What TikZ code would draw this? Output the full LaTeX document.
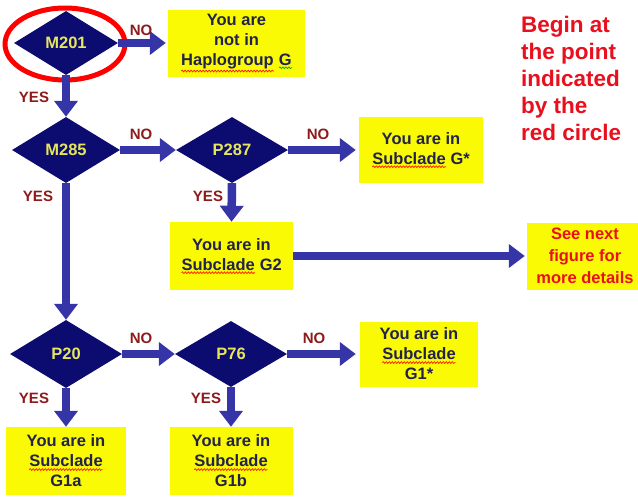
\documentclass[tikz,border=0pt]{standalone}
\usepackage{fontspec}
\setmainfont{Liberation Sans}
\usetikzlibrary{shapes.geometric,arrows.meta,decorations.pathmorphing}
\definecolor{navy}{HTML}{0B0B70}
\definecolor{arrowblue}{HTML}{3535A8}
\definecolor{boxyellow}{HTML}{FAFA05}
\definecolor{boxtext}{HTML}{22224E}
\definecolor{labred}{HTML}{8E1B1B}
\definecolor{beginred}{HTML}{E8101E}
\definecolor{diatext}{HTML}{E6E65A}
\newcommand\wavy[2]{\tikz[baseline=(w.base)]{\node[inner sep=0pt,outer sep=0pt,minimum width=0pt,minimum height=0pt,fill=none,text=boxtext](w){#2};\draw[#1,line width=0.6pt,decorate,decoration={snake,amplitude=0.9pt,segment length=3pt}] ([yshift=-2.5pt]w.south west)--([yshift=-2.5pt]w.south east);}}
\tikzset{
  dia/.style={diamond,fill=navy,inner sep=0pt,text=diatext,font=\fontsize{16.5}{18}\selectfont\bfseries},
  ybox/.style={rectangle,fill=boxyellow,inner sep=0pt,align=center,text=boxtext,font=\fontsize{16.5}{20}\selectfont\bfseries},
  lab/.style={text=labred,font=\fontsize{15}{17}\selectfont\bfseries,inner sep=0pt},
  flow/.style={draw=arrowblue,line width=8.5pt,-{Triangle[width=23pt,length=16pt]}},
}
\begin{document}
\begin{tikzpicture}[x=1pt,y=-1pt]
\useasboundingbox (0,0) rectangle (638,496);
\fill[white] (0,0) rectangle (638,496);
% diamonds
\node[dia,minimum width=104pt,minimum height=64pt] (m201) at (66,43) {M201};
\node[dia,minimum width=108pt,minimum height=66pt] (m285) at (66,150) {M285};
\node[dia,minimum width=112pt,minimum height=66pt] (p287) at (232,150) {P287};
\node[dia,minimum width=112pt,minimum height=68pt] (p20) at (66,354) {P20};
\node[dia,minimum width=112pt,minimum height=66pt] (p76) at (231,354) {P76};
% red circle
\node[draw=red,line width=5pt,ellipse,minimum width=120pt,minimum height=72pt,inner sep=0pt] (circ) at (65,44) {};
% boxes
\node[ybox,minimum width=137pt,minimum height=67pt] (notg) at (236.5,43) {You are\\not in\\\wavy{red}{Haplogroup} \wavy{green!60!black}{G}};
\node[ybox,minimum width=124pt,minimum height=66pt] (gstar) at (421,150) {You are in\\\wavy{red}{Subclade} G*};
\node[ybox,minimum width=123pt,minimum height=68pt] (g2) at (231.5,256) {You are in\\\wavy{red}{Subclade} G2};
\node[ybox,minimum width=116pt,minimum height=67pt,text=beginred,font=\fontsize{16.5}{22}\selectfont\bfseries] (next) at (585,256) {See next\\figure for\\more details};
\node[ybox,minimum width=118pt,minimum height=65pt] (g1star) at (419,354) {You are in\\\wavy{red}{Subclade}\\G1*};
\node[ybox,minimum width=120pt,minimum height=68pt] (g1a) at (66,461) {You are in\\\wavy{red}{Subclade}\\G1a};
\node[ybox,minimum width=123pt,minimum height=68pt] (g1b) at (231,461) {You are in\\\wavy{red}{Subclade}\\G1b};
% begin text
\node[anchor=north west,align=left,inner sep=0pt,text=beginred,font=\fontsize{22.5}{27}\selectfont\bfseries] (begin) at (521,16) {Begin at\\the point\\indicated\\by the\\red circle};
% connectors
\draw[flow,shorten >=2pt] (m201.east) -- (notg.west);
\draw[flow] (m201.south) -- (m285.north);
\draw[flow] (m285.east) -- (p287.west);
\draw[flow,shorten >=3pt] (p287.east) -- (gstar.west);
\draw[flow] (p287.south) -- (g2.north);
\draw[flow,shorten >=2pt] (g2.east) -- (next.west);
\draw[flow] (m285.south) -- (p20.north);
\draw[flow] (p20.east) -- (p76.west);
\draw[flow,shorten >=4pt] (p76.east) -- (g1star.west);
\draw[flow] (p20.south) -- (g1a.north);
\draw[flow] (p76.south) -- (g1b.north);
% labels
\node[lab] (no1) at (141,30) {NO};
\node[lab] (yes1) at (34,97) {YES};
\node[lab] (no2) at (141,134) {NO};
\node[lab] (no3) at (318,134) {NO};
\node[lab] (yes2) at (38,196) {YES};
\node[lab] (yes3) at (208,196) {YES};
\node[lab] (no4) at (141,338) {NO};
\node[lab] (no5) at (314,338) {NO};
\node[lab] (yes4) at (34,398) {YES};
\node[lab] (yes5) at (206,398) {YES};
\end{tikzpicture}
\end{document}
